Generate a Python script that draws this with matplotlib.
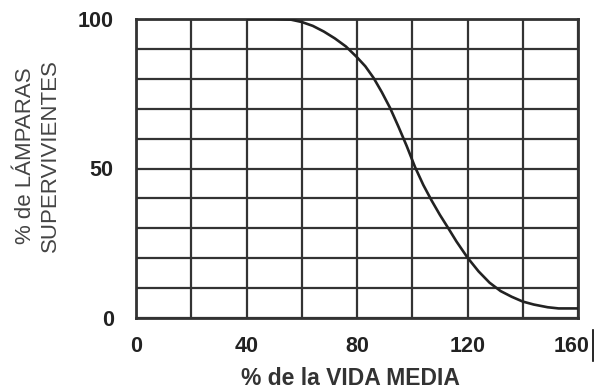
import matplotlib
matplotlib.use("Agg")
import matplotlib.pyplot as plt
from matplotlib.transforms import ScaledTranslation
import numpy as np

# Data
vida_media = [40, 50, 56, 60, 64, 68, 72, 76, 80, 83, 86, 89, 92, 95, 98, 101,
              104, 107, 110, 113, 116, 120, 124, 128, 132, 136, 140, 144, 149, 153, 160]
supervivientes = [100, 100, 99.8, 99, 97.7, 95.8, 93.5, 90.8, 87.2, 84.2, 80.3, 75.5, 70.2, 64, 57.5, 50.5,
                  44.5, 39.3, 34.5, 30.1, 25.6, 20.2, 15.6, 11.8, 9.0, 7.1, 5.5, 4.5, 3.6, 3.2, 3.2]
x_ticks = [0, 40, 80, 120, 160]
y_ticks = [0, 50, 100]

fam = "Liberation Sans"

fig = plt.figure(figsize=(5.94, 3.92), dpi=100)
ax = fig.add_axes([136/594, 1-318/392, 442/594, 299/392])

ax.plot(vida_media, supervivientes, color="#222222", lw=1.9, zorder=3,
        solid_joinstyle="round", solid_capstyle="butt")
ax.set_xlim(0, 160)
ax.set_ylim(0, 100)

ax.set_xticks(np.arange(0, 161, 20), minor=True)
ax.set_yticks(np.arange(0, 101, 10), minor=True)
ax.set_xticks(x_ticks)
ax.set_yticks(y_ticks)
ax.set_xticklabels([str(v) for v in x_ticks], fontfamily=fam, fontweight="bold", fontsize=15.5, color="#222222")
ax.set_yticklabels([str(v) for v in y_ticks], fontfamily=fam, fontweight="bold", fontsize=15.5, color="#222222")
ax.tick_params(which="both", length=0)
ax.tick_params(axis="x", pad=13)
ax.tick_params(axis="y", pad=16)
ax.grid(which="both", color="#333333", lw=1.6)
for s in ax.spines.values():
    s.set_color("#333333")
    s.set_linewidth(2.0)

# last x label sits slightly left in the reference
last = ax.get_xticklabels()[-1]
last.set_transform(last.get_transform() + ScaledTranslation(-6/100, 0, fig.dpi_scale_trans))

ax.set_xlabel("% de la VIDA MEDIA", fontfamily=fam, fontweight="bold", fontsize=16.5, color="#333333", labelpad=7)
ax.xaxis.label.set_x((350 - 136) / 442)
fig.text(38/594, 1-156/392, "% de LÁMPARAS\nSUPERVIVIENTES", rotation=90, ha="center", va="center",
         multialignment="center", fontfamily=fam, fontsize=16, color="#444444", linespacing=1.3)

# cursor-like bar after 160
fig.add_artist(plt.Line2D([593/594, 593/594], [1-361/392, 1-330/392], color="black", lw=1.2))

fig.savefig("out.png", dpi=100)
